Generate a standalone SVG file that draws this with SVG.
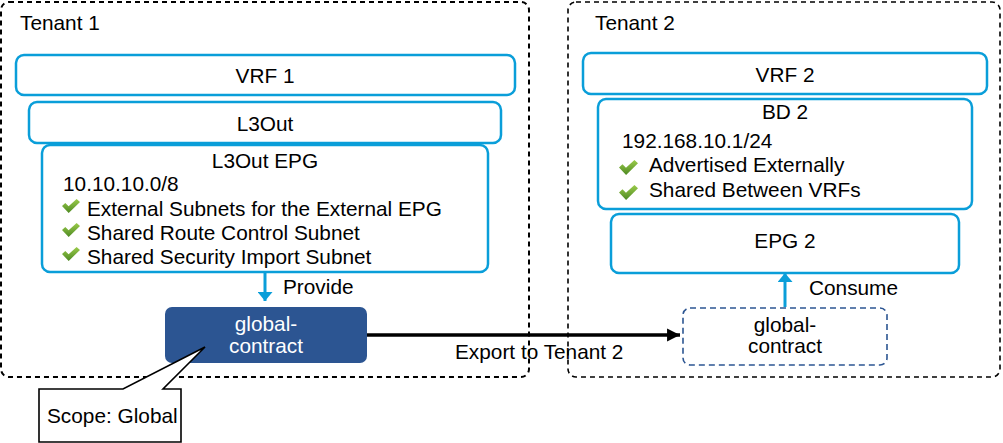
<svg xmlns="http://www.w3.org/2000/svg" width="1003" height="443" viewBox="0 0 1003 443">
<defs>
<linearGradient id="gchk" x1="0" y1="0" x2="0" y2="1">
<stop offset="0" stop-color="#9BCB4A"/>
<stop offset="1" stop-color="#4E8A23"/>
</linearGradient>
<symbol id="chk" viewBox="0 0 18 14" width="18" height="14" overflow="visible">
<path d="M0,7 L3.3,4 L6.6,7.2 L14.6,0 L18,2.9 L6.7,14 Z" fill="url(#gchk)"/>
</symbol>
<marker id="ahBlue" viewBox="0 0 6 10" refX="6" refY="5" markerWidth="3" markerHeight="5" markerUnits="strokeWidth" orient="auto">
<path d="M0,0 L6,5 L0,10 Z" fill="#0A9ED9"/>
</marker>
<marker id="ahBlack" viewBox="0 0 10 10" refX="10" refY="5" markerWidth="3.7" markerHeight="4" markerUnits="strokeWidth" orient="auto">
<path d="M0,0 L10,5 L0,10 Z" fill="#000"/>
</marker>
</defs>
<style>
text{font-family:"Liberation Sans",Arial,sans-serif;font-size:20.8px;fill:#000}
.c{text-anchor:middle}
.w{fill:#fff}
.tenant{fill:none;stroke:#000;stroke-dasharray:5 4}
.obj{fill:#fff;stroke:#0A9ED9;stroke-width:2.5}
</style>
<rect width="1003" height="443" fill="#fff"/>
<g id="tenant1">
<rect class="tenant" x="1" y="2" width="528" height="375" rx="8" stroke-width="2"/>
<text x="20" y="30">Tenant 1</text>
</g>
<g id="tenant2">
<rect class="tenant" x="568" y="2" width="432" height="375" rx="8" stroke-width="1.6"/>
<text x="595" y="30">Tenant 2</text>
</g>
<g id="vrf1">
<rect class="obj" x="16" y="55" width="499" height="40" rx="8"/>
<text class="c" x="265" y="83">VRF 1</text>
</g>
<g id="l3out">
<rect class="obj" x="29" y="102" width="472" height="41" rx="8"/>
<text class="c" x="265" y="131">L3Out</text>
</g>
<g id="l3out-epg">
<rect class="obj" x="42" y="145" width="446" height="127" rx="8"/>
<text class="c" x="265" y="168">L3Out EPG</text>
<text x="63" y="191">10.10.10.0/8</text>
<use href="#chk" x="62" y="199" width="18" height="14"/>
<text x="87" y="216">External Subnets for the External EPG</text>
<use href="#chk" x="62" y="223" width="18" height="14"/>
<text x="87" y="240">Shared Route Control Subnet</text>
<use href="#chk" x="62" y="247" width="18" height="14"/>
<text x="87" y="264">Shared Security Import Subnet</text>
</g>
<g id="vrf2">
<rect class="obj" x="583" y="53" width="404" height="41" rx="8"/>
<text class="c" x="785" y="82">VRF 2</text>
</g>
<g id="bd2">
<rect class="obj" x="598" y="99" width="374" height="110" rx="8"/>
<text class="c" x="785" y="119">BD 2</text>
<text x="622" y="148">192.168.10.1/24</text>
<use href="#chk" x="619" y="160" width="19" height="15"/>
<text x="649" y="172">Advertised Externally</text>
<use href="#chk" x="619" y="185" width="19" height="15"/>
<text x="649" y="197">Shared Between VRFs</text>
</g>
<g id="epg2">
<rect class="obj" x="611" y="214" width="348" height="59" rx="8"/>
<text class="c" x="785" y="248">EPG 2</text>
</g>
<g id="global-contract-provider">
<rect x="165" y="307" width="202" height="56" rx="7" fill="#2C5592"/>
<text class="c w" x="266" y="331">global-</text>
<text class="c w" x="266" y="353">contract</text>
</g>
<g id="global-contract-consumer">
<rect x="683" y="308" width="204" height="57" rx="7" fill="#fff" stroke="#2C5592" stroke-width="1.6" stroke-dasharray="6 4"/>
<text class="c" x="785" y="332">global-</text>
<text class="c" x="785" y="353">contract</text>
</g>
<g id="connectors">
<line x1="265" y1="272" x2="265" y2="301" stroke="#0A9ED9" stroke-width="3" marker-end="url(#ahBlue)"/>
<text x="283" y="294">Provide</text>
<line x1="785" y1="307" x2="785" y2="273" stroke="#0A9ED9" stroke-width="3" marker-end="url(#ahBlue)"/>
<text x="809" y="295">Consume</text>
<line x1="367" y1="335" x2="680" y2="335" stroke="#000" stroke-width="3.5" marker-end="url(#ahBlack)"/>
<text x="455" y="359">Export to Tenant 2</text>
</g>
<g id="scope-callout">
<path d="M39,389 L123,389 L205,347 L163,389 L181,389 L181,442 L39,442 Z" fill="#fff" stroke="#000" stroke-width="1.6" stroke-linejoin="miter"/>
<text x="47" y="423">Scope: Global</text>
</g>
</svg>
